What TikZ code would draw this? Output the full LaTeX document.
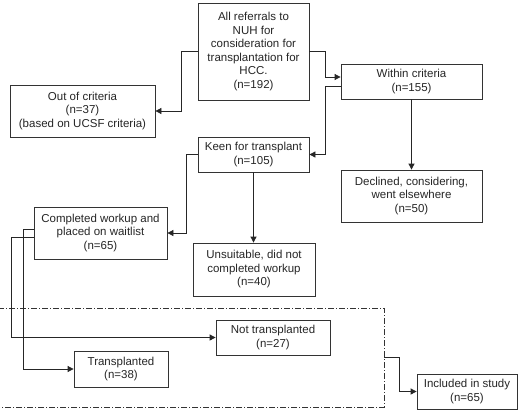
\documentclass[tikz,border=0pt]{standalone}
\usepackage{fontspec}
\setmainfont{Liberation Sans}
\usetikzlibrary{arrows.meta,calc}
\begin{document}
\begin{tikzpicture}[x=1pt,y=-1pt,
  box/.style={draw=black!80,line width=0.8pt,inner sep=0pt,align=center,
    font=\fontsize{11.5}{13.5}\selectfont,text=black!85},
  conn/.style={draw=black!85,line width=0.8pt},
  arr/.style={conn,-{Triangle[length=6pt,width=6pt]}}]
\useasboundingbox[fill=white] (0,0) rectangle (532,413);
\node[box,minimum width=111pt,minimum height=97pt] (top) at (253.5,51.5)
  {All referrals to\\NUH for\\consideration for\\transplantation for\\HCC.\\(n=192)};
\node[box,minimum width=145pt,minimum height=52pt] (out) at (82.5,111)
  {Out of criteria\\(n=37)\\(based on UCSF criteria)};
\node[box,minimum width=141pt,minimum height=35pt] (within) at (411.5,81.5)
  {Within criteria\\(n=155)};
\node[box,minimum width=111pt,minimum height=35pt] (keen) at (253.5,154.5)
  {Keen for transplant\\(n=105)};
\node[box,minimum width=141pt,minimum height=52pt] (declined) at (411.5,196)
  {Declined, considering,\\went elsewhere\\(n=50)};
\node[box,minimum width=122pt,minimum height=53pt] (unsuit) at (254,269.5)
  {Unsuitable, did not\\completed workup\\(n=40)};
\node[box,minimum width=133pt,minimum height=52pt] (completed) at (100.5,233)
  {Completed workup and\\placed on waitlist\\(n=65)};
\node[box,minimum width=94pt,minimum height=36pt] (tx) at (121,369)
  {Transplanted\\(n=38)};
\node[box,minimum width=114pt,minimum height=35pt] (notx) at (273,337.5)
  {Not transplanted\\(n=27)};
\node[box,minimum width=100pt,minimum height=35pt] (incl) at (467,391.5)
  {Included in study\\(n=65)};
% dash-dot group
\draw[black!80,line width=0.7pt,dash pattern=on 6pt off 2pt on 1pt off 2pt]
  (-2,308) -- (384,308) -- (384,407) -- (-2,407);
\coordinate (grp) at (384,357);
% connectors
\draw[arr] (top.west) -- (181,51.5) |- (out.east);
\draw[arr] (top.east) -- (325,51.5) |- (within.west |- 0,77);
\draw[arr] (within.west |- 0,86) -- (325,86) |- (keen.east);
\draw[arr] (within.south) -- (declined.north);
\draw[arr] (keen.south) -- (keen.south |- unsuit.north);
\draw[arr] (keen.west) -- (186,154.5) |- (completed.east);
\draw[arr] (completed.west |- 0,229) -- (23,229) |- (tx.west);
\draw[arr] (completed.west |- 0,237) -- (11,237) |- (notx.west);
\draw[arr] (grp) -- (399,357) |- (incl.west);
\end{tikzpicture}
\end{document}
